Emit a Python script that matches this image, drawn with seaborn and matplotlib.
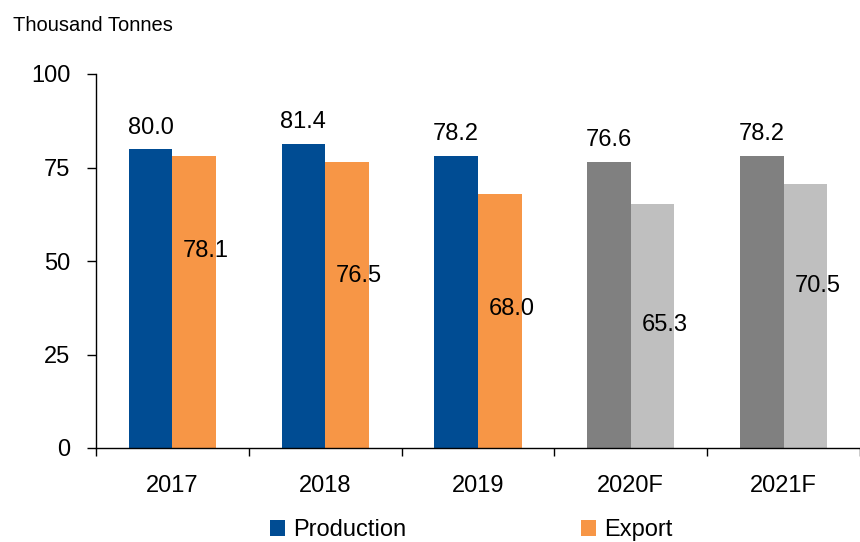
import matplotlib
matplotlib.use("Agg")
import matplotlib.pyplot as plt
import seaborn as sns
import pandas as pd

# Annual production and export volumes (thousand tonnes); last two years are forecasts
years = ["2017", "2018", "2019", "2020F", "2021F"]
production = [80.0, 81.4, 78.2, 76.6, 78.2]
export = [78.1, 76.5, 68.0, 65.3, 70.5]
is_forecast = [False, False, False, True, True]

# Heights at which the export value labels sit inside their bars
export_label_y = [51.1, 44.4, 35.6, 31.3, 41.7]

series_names = ["Production", "Export"]
actual_colors = ["#004C93", "#F79646"]
forecast_colors = ["#808080", "#BFBFBF"]

df = pd.DataFrame({
    "Year": years + years,
    "Series": [series_names[0]] * len(years) + [series_names[1]] * len(years),
    "Value": production + export,
})

sns.set_theme(style="ticks")
plt.rcParams["font.family"] = ["Liberation Sans", "DejaVu Sans"]
plt.rcParams["text.color"] = "black"
plt.rcParams["axes.labelcolor"] = "black"
plt.rcParams["xtick.color"] = "black"
plt.rcParams["ytick.color"] = "black"

W, H = 860, 542
fig = plt.figure(figsize=(W / 100, H / 100), dpi=100)
ax = fig.add_axes([96 / W, 94 / H, 764 / W, 374 / H])

sns.barplot(
    data=df, x="Year", y="Value", hue="Series",
    order=years, hue_order=series_names,
    palette=actual_colors, saturation=1, width=0.571,
    linewidth=0, ax=ax,
)

# Forecast years are drawn in grey tones
for s_idx, container in enumerate(ax.containers):
    for j, patch in enumerate(container.patches):
        if is_forecast[j]:
            patch.set_facecolor(forecast_colors[s_idx])

# Value labels: production above the bar, export inside the bar
for j, patch in enumerate(ax.containers[0].patches):
    cx = patch.get_x() + patch.get_width() / 2
    ax.annotate(f"{production[j]:.1f}", (cx, production[j]),
                xytext=(0, 11), textcoords="offset points",
                ha="center", va="baseline", fontsize=17)
for j, patch in enumerate(ax.containers[1].patches):
    cx = patch.get_x() + patch.get_width() / 2
    ax.annotate(f"{export[j]:.1f}", (cx, export_label_y[j]),
                xytext=(8.6, 0), textcoords="offset points",
                ha="center", va="baseline", fontsize=17)

ax.set_ylim(0, 100)
ax.set_xlim(-0.5, -0.5 + 764 / 155.2)
ax.set_yticks([0, 25, 50, 75, 100])
ax.set_yticklabels(["0", "25", "50", "75", "100"], fontsize=17)
ax.set_xticks(range(len(years)))
ax.set_xticklabels(years, fontsize=17)
ax.set_xticks([i - 0.5 for i in range(len(years) + 1)], minor=True)
ax.tick_params(axis="x", which="major", length=0, pad=19.5)
ax.tick_params(axis="x", which="minor", length=5.5, width=1, direction="out")
ax.tick_params(axis="y", length=6.5, width=1, pad=12, direction="out")
ax.set_xlabel("")
ax.set_ylabel("")

sns.despine(ax=ax)
for side in ("left", "bottom"):
    ax.spines[side].set_color("black")
    ax.spines[side].set_linewidth(1)

if ax.get_legend() is not None:
    ax.get_legend().remove()

fig.legend(
    [ax.containers[0], ax.containers[1]], series_names,
    loc="center", bbox_to_anchor=(0.548, 0.022), ncol=2, frameon=False,
    fontsize=17, handlelength=0.64, handleheight=0.64,
    handletextpad=0.34, columnspacing=7.4, borderaxespad=0, borderpad=0,
)

fig.text(13 / W, 1 - 31 / H, "Thousand Tonnes", fontsize=14.5,
         ha="left", va="baseline")

fig.savefig("out.png", dpi=100)
